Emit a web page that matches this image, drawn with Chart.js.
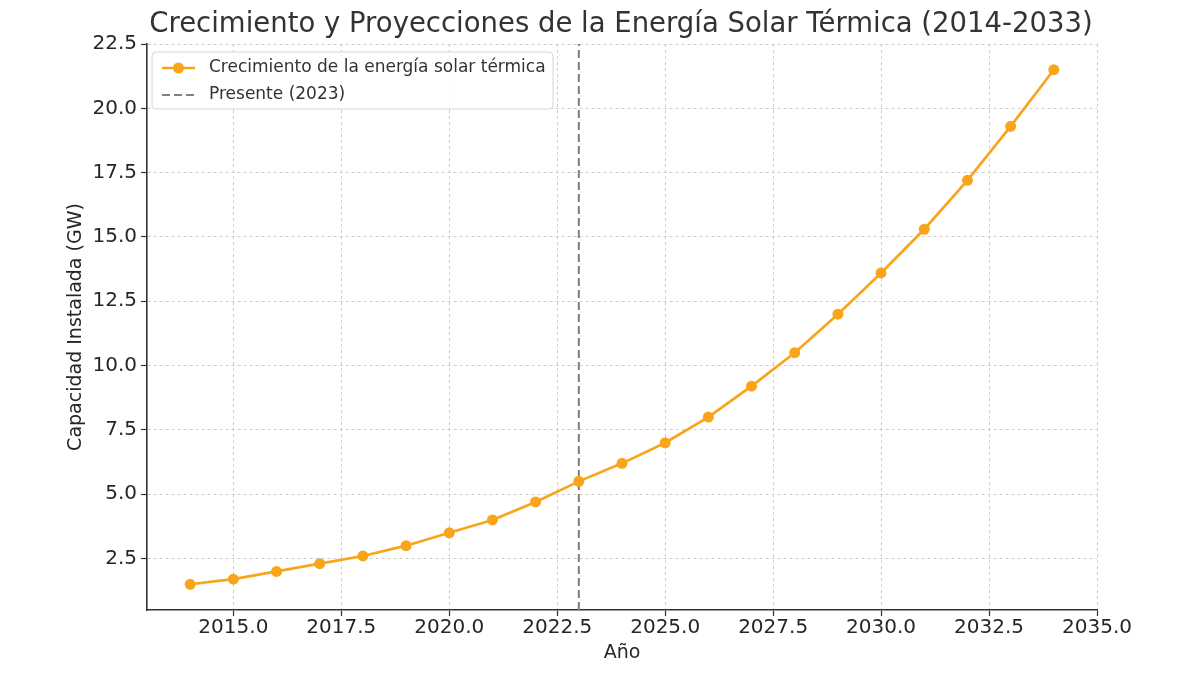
<!DOCTYPE html>
<html>
<head>
<meta charset="utf-8">
<script src="https://cdn.jsdelivr.net/npm/chart.js@4"></script>
<style>
  html, body { margin: 0; padding: 0; background: #fff; }
</style>
</head>
<body>
<canvas id="chart" width="1200" height="676"></canvas>
<script>
// Datos
const years = [2014, 2015, 2016, 2017, 2018, 2019, 2020, 2021, 2022, 2023, 2024,
               2025, 2026, 2027, 2028, 2029, 2030, 2031, 2032, 2033, 2034];
const capacity = [1.5, 1.7, 2.0, 2.3, 2.6, 3.0, 3.5, 4.0, 4.7, 5.5, 6.2,
                  7.0, 8.0, 9.2, 10.5, 12.0, 13.6, 15.3, 17.2, 19.3, 21.5];
const presentYear = 2023;
const xTicks = [2015, 2017.5, 2020, 2022.5, 2025, 2027.5, 2030, 2032.5, 2035];
const yTicks = [2.5, 5, 7.5, 10, 12.5, 15, 17.5, 20, 22.5];
const xMin = 2013, xMax = 2035;
const yMin = 0.5, yMax = 22.5;

const titleText = 'Crecimiento y Proyecciones de la Energía Solar Térmica (2014-2033)';
const FONT = "'DejaVu Sans', sans-serif";
const ORANGE = '#F9A51B';

Chart.defaults.font.family = FONT;
Chart.defaults.color = '#262626';

// Título centrado sobre el área del gráfico
const titlePlugin = {
  id: 'titlePlugin',
  afterDraw(chart) {
    const { ctx, chartArea } = chart;
    ctx.save();
    ctx.font = '27.5px ' + FONT;
    ctx.fillStyle = '#333';
    ctx.textAlign = 'center';
    ctx.textBaseline = 'middle';
    ctx.fillText(titleText, (chartArea.left + chartArea.right) / 2 - 1, 25);
    ctx.restore();
  }
};

// Leyenda dentro del gráfico (arriba a la izquierda)
const legendBox = {
  id: 'legendBox',
  afterDraw(chart) {
    const { ctx, chartArea } = chart;
    const x = chartArea.left + 5, y = chartArea.top + 8;
    const w = 401, h = 57;
    ctx.save();
    ctx.beginPath();
    ctx.roundRect(x, y, w, h, 4);
    ctx.fillStyle = 'rgba(255,255,255,0.85)';
    ctx.fill();
    ctx.strokeStyle = '#d6d6d6';
    ctx.lineWidth = 1;
    ctx.stroke();

    const ds = chart.data.datasets;
    ctx.font = '17px ' + FONT;
    ctx.fillStyle = '#333';
    ctx.textBaseline = 'middle';

    // fila 1: serie naranja
    let ly = y + 16;
    ctx.strokeStyle = ds[0].borderColor;
    ctx.lineWidth = 2.5;
    ctx.beginPath();
    ctx.moveTo(x + 10, ly); ctx.lineTo(x + 43, ly);
    ctx.stroke();
    ctx.beginPath();
    ctx.arc(x + 26.5, ly, 5.5, 0, Math.PI * 2);
    ctx.fillStyle = ds[0].borderColor;
    ctx.fill();
    ctx.fillStyle = '#333';
    ctx.fillText(ds[0].label, x + 57, ly);

    // fila 2: línea discontinua
    ly = y + 43;
    ctx.strokeStyle = ds[1].borderColor;
    ctx.lineWidth = 2;
    ctx.setLineDash(ds[1].borderDash);
    ctx.beginPath();
    ctx.moveTo(x + 10, ly); ctx.lineTo(x + 43, ly);
    ctx.stroke();
    ctx.setLineDash([]);
    ctx.fillText(ds[1].label, x + 57, ly);
    ctx.restore();
  }
};

const ctx = document.getElementById('chart').getContext('2d');
new Chart(ctx, {
  type: 'line',
  data: {
    datasets: [
      {
        label: 'Crecimiento de la energía solar térmica',
        data: years.map((yr, i) => ({ x: yr, y: capacity[i] })),
        borderColor: ORANGE,
        backgroundColor: ORANGE,
        borderWidth: 2.7,
        pointRadius: 5.5,
        pointHoverRadius: 5.5,
        pointBorderWidth: 0,
        tension: 0
      },
      {
        label: 'Presente (2023)',
        data: [{ x: presentYear, y: yMin }, { x: presentYear, y: yMax }],
        borderColor: '#7f7f7f',
        borderWidth: 2,
        borderDash: [8, 4],
        pointRadius: 0
      }
    ]
  },
  plugins: [titlePlugin, legendBox],
  options: {
    responsive: false,
    animation: false,
    devicePixelRatio: 1,
    layout: { padding: { top: 44, left: 0, right: 103, bottom: 0 } },
    plugins: {
      legend: { display: false },
      title: { display: false },
      tooltip: { enabled: false }
    },
    scales: {
      x: {
        type: 'linear',
        position: 'bottom',
        min: xMin,
        max: xMax,
        afterBuildTicks: s => { s.ticks = xTicks.map(v => ({ value: v })); },
        afterFit: s => { s.height = 66; },
        ticks: {
          callback: v => v.toFixed(1),
          font: { size: 20 },
          color: '#262626',
          padding: 0,
          maxRotation: 0,
          autoSkip: false
        },
        grid: {
          color: '#cdcdcd',
          lineWidth: 1,
          tickColor: '#333',
          tickLength: 6,
          tickWidth: 1.2
        },
        border: { display: true, color: '#333', width: 1.6, dash: [3, 3] },
        title: {
          display: true,
          text: 'Año',
          font: { size: 19 },
          color: '#262626',
          padding: { top: 0, bottom: 12 }
        }
      },
      y: {
        type: 'linear',
        min: yMin,
        max: yMax,
        afterBuildTicks: s => { s.ticks = yTicks.map(v => ({ value: v })); },
        afterFit: s => { s.width = 147; },
        ticks: {
          callback: v => v.toFixed(1),
          font: { size: 20 },
          color: '#262626',
          padding: 4
        },
        grid: {
          color: '#cdcdcd',
          lineWidth: 1,
          tickColor: '#333',
          tickLength: 6,
          tickWidth: 1.2
        },
        border: { display: true, color: '#333', width: 1.6, dash: [3, 3] },
        title: {
          display: true,
          text: 'Capacidad Instalada (GW)',
          font: { size: 19 },
          color: '#262626',
          padding: { top: 65, bottom: 0 }
        }
      }
    }
  }
});
</script>
</body>
</html>
